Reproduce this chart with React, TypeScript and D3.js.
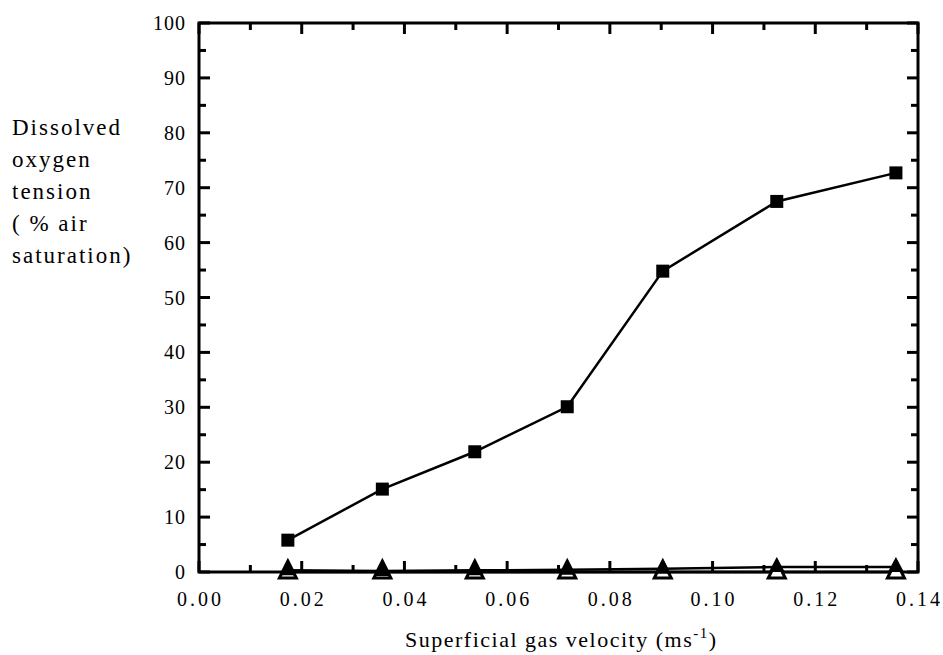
import React from "react";
import * as d3 from "d3";

// Superficial gas velocity (m/s) at each run
const velocity = [0.0173, 0.0357, 0.0537, 0.0717, 0.0903, 0.1125, 0.1357];
// Dissolved oxygen tension, % air saturation
const doSquares = [5.8, 15.1, 21.9, 30.1, 54.8, 67.5, 72.7];
const doFilledTri = [0.3, 0.2, 0.3, 0.4, 0.6, 0.9, 0.9];
const doOpenTri = [0, 0, 0, 0, 0, 0, 0];

const xMajor = [0, 0.02, 0.04, 0.06, 0.08, 0.1, 0.12, 0.14];
const xMinor = [0.01, 0.03, 0.05, 0.07, 0.09, 0.11, 0.13];
const yMajor = [0, 10, 20, 30, 40, 50, 60, 70, 80, 90, 100];
const yMinor = [5, 15, 25, 35, 45, 55, 65, 75, 85, 95];
const yTitleLines = ["Dissolved", "oxygen", "tension", "( % air", "saturation)"];

const W = 943;
const H = 655;
const M = { left: 199, right: 918, top: 23, bottom: 572 };
const SERIF = '"Liberation Serif"';

export default function App() {
  const x = d3.scaleLinear().domain([0, 0.14]).range([M.left, M.right]);
  const y = d3.scaleLinear().domain([0, 100]).range([M.bottom, M.top]);

  const line = d3
    .line()
    .x((d: any) => x(d[0]))
    .y((d: any) => y(d[1]));

  const pts = (vals: number[]) => velocity.map((v, i) => [v, vals[i]] as [number, number]);

  const triPath = (w: number, up: number, down: number) =>
    `M0,${-up}L${w / 2},${down}L${-w / 2},${down}Z`;

  const majorLen = 11;
  const minorLen = 7;

  return (
    <svg width={W} height={H} style={{ position: "absolute", left: 0, top: 0 }}>
      {/* tick marks on all four sides, pointing inward */}
      <g stroke="#000" strokeWidth={3}>
        {xMajor.map((t) => (
          <g key={"xM" + t}>
            <line x1={x(t)} x2={x(t)} y1={M.bottom} y2={M.bottom - majorLen} />
            <line x1={x(t)} x2={x(t)} y1={M.top} y2={M.top + majorLen} />
          </g>
        ))}
        {xMinor.map((t) => (
          <g key={"xm" + t}>
            <line x1={x(t)} x2={x(t)} y1={M.bottom} y2={M.bottom - minorLen} />
            <line x1={x(t)} x2={x(t)} y1={M.top} y2={M.top + minorLen} />
          </g>
        ))}
        {yMajor.map((t) => (
          <g key={"yM" + t}>
            <line x1={M.left} x2={M.left + majorLen} y1={y(t)} y2={y(t)} />
            <line x1={M.right} x2={M.right - majorLen} y1={y(t)} y2={y(t)} />
          </g>
        ))}
        {yMinor.map((t) => (
          <g key={"ym" + t}>
            <line x1={M.left} x2={M.left + minorLen} y1={y(t)} y2={y(t)} />
            <line x1={M.right} x2={M.right - minorLen} y1={y(t)} y2={y(t)} />
          </g>
        ))}
      </g>

      {/* series lines */}
      <path d={line(pts(doOpenTri) as any) || ""} fill="none" stroke="#000" strokeWidth={2.5} />
      <path d={line(pts(doFilledTri) as any) || ""} fill="none" stroke="#000" strokeWidth={2.5} />
      <path d={line(pts(doSquares) as any) || ""} fill="none" stroke="#000" strokeWidth={2.5} />

      {/* plot frame */}
      <rect
        x={M.left}
        y={M.top}
        width={M.right - M.left}
        height={M.bottom - M.top}
        fill="none"
        stroke="#000"
        strokeWidth={3}
      />

      {/* open triangles */}
      {pts(doOpenTri).map(([v, d], i) => (
        <path
          key={"ot" + i}
          transform={`translate(${x(v)},${y(d)})`}
          d={triPath(17, 11, 6)}
          fill="#fff"
          stroke="#000"
          strokeWidth={3}
        />
      ))}
      {/* filled triangles */}
      {pts(doFilledTri).map(([v, d], i) => (
        <path
          key={"ft" + i}
          transform={`translate(${x(v)},${y(d)})`}
          d={triPath(16, 10, 5)}
          fill="#000"
        />
      ))}
      {/* filled squares */}
      {pts(doSquares).map(([v, d], i) => (
        <rect key={"sq" + i} x={x(v) - 6.5} y={y(d) - 6.5} width={13} height={13} fill="#000" />
      ))}

      {/* tick labels */}
      {xMajor.map((t) => (
        <text
          key={"xl" + t}
          x={x(t) + 1.5}
          y={606}
          textAnchor="middle"
          fontSize={20}
          letterSpacing={3}
          style={{ fontFamily: SERIF }}
        >
          {t.toFixed(2)}
        </text>
      ))}
      {yMajor.map((t) => (
        <text
          key={"yl" + t}
          x={186}
          y={y(t) + 7}
          textAnchor="end"
          fontSize={20}
          letterSpacing={1}
          style={{ fontFamily: SERIF }}
        >
          {t}
        </text>
      ))}

      {/* axis titles */}
      {yTitleLines.map((s, i) => (
        <text
          key={"yt" + i}
          x={12}
          y={135 + i * 32}
          fontSize={23}
          letterSpacing={2}
          style={{ fontFamily: SERIF }}
        >
          {s}
        </text>
      ))}
      <text x={405} y={647} fontSize={22} letterSpacing={1.5} style={{ fontFamily: SERIF }}>
        Superficial gas velocity (ms
        <tspan dy={-9} fontSize={15}>-1</tspan>
        <tspan dy={9}>)</tspan>
      </text>
    </svg>
  );
}
